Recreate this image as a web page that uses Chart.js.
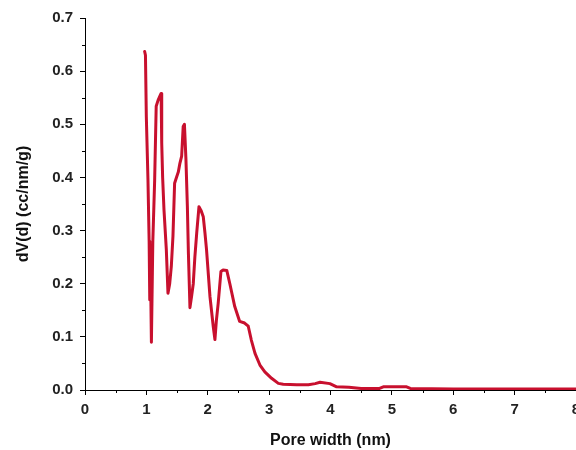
<!DOCTYPE html>
<html>
<head>
<meta charset="utf-8">
<script src="https://cdn.jsdelivr.net/npm/chart.js@4/dist/chart.umd.min.js"></script>
<style>
  html, body { margin: 0; padding: 0; background: #fff; }
  #wrap { width: 576px; height: 450px; }
</style>
</head>
<body>
<div id="wrap"><canvas id="psd"></canvas></div>
<script>
// pore size distribution
const poreWidth = [0.972, 0.985, 0.999, 1.026, 1.045, 1.055, 1.065, 1.082, 1.105, 1.135,
    1.16, 1.19, 1.216, 1.24, 1.25, 1.265, 1.287, 1.325, 1.352, 1.38,
    1.406, 1.433, 1.46, 1.49, 1.52, 1.547, 1.575, 1.60, 1.62, 1.645,
    1.668, 1.685, 1.71, 1.735, 1.764, 1.79, 1.82, 1.857, 1.89, 1.927,
    1.955, 1.98, 2.036, 2.09, 2.117, 2.14, 2.17, 2.215, 2.25, 2.31,
    2.36, 2.44, 2.52, 2.6, 2.66, 2.71, 2.77, 2.85, 2.93, 3.04,
    3.15, 3.23, 3.45, 3.64, 3.75, 3.83, 3.99, 4.1, 4.3, 4.5,
    4.8, 4.86, 5.24, 5.3, 6, 7, 8];
const dVd = [0.637, 0.63, 0.515, 0.395, 0.28, 0.17, 0.25, 0.09, 0.28, 0.395,
    0.534, 0.545, 0.552, 0.558, 0.465, 0.40, 0.339, 0.264, 0.182, 0.20,
    0.232, 0.289, 0.389, 0.40, 0.41, 0.427, 0.44, 0.496, 0.50, 0.433,
    0.345, 0.257, 0.155, 0.175, 0.20, 0.25, 0.295, 0.345, 0.338, 0.326,
    0.295, 0.264, 0.176, 0.119, 0.095, 0.13, 0.163, 0.223, 0.226, 0.225,
    0.20, 0.157, 0.129, 0.126, 0.12, 0.094, 0.069, 0.047, 0.034, 0.022,
    0.0125, 0.011, 0.010, 0.010, 0.012, 0.0145, 0.012, 0.006, 0.005, 0.003,
    0.003, 0.006, 0.006, 0.003, 0.002, 0.002, 0.002];

const xTicks = [0, 1, 2, 3, 4, 5, 6, 7, 8];
const yTicks = [0, 0.1, 0.2, 0.3, 0.4, 0.5, 0.6, 0.7];

const lineColor = '#c8102e';
const tickFont = { family: '"Liberation Sans", Arial, sans-serif', size: 15, weight: 'bold' };
const titleFont = { family: '"Liberation Sans", Arial, sans-serif', size: 16, weight: 'bold' };

// short minor ticks halfway between the labelled ones
const minorTicks = {
    id: 'minorTicks',
    afterDraw(chart) {
        const { ctx, scales: { x, y } } = chart;
        ctx.save();
        ctx.strokeStyle = '#000';
        ctx.lineWidth = 1;
        ctx.beginPath();
        for (let i = 0; i < xTicks.length - 1; i++) {
            const px = Math.round(x.getPixelForValue((xTicks[i] + xTicks[i + 1]) / 2)) + 0.5;
            ctx.moveTo(px, y.bottom);
            ctx.lineTo(px, y.bottom + 3);
        }
        for (let i = 0; i < yTicks.length - 1; i++) {
            const py = Math.round(y.getPixelForValue((yTicks[i] + yTicks[i + 1]) / 2)) + 0.5;
            ctx.moveTo(x.left, py);
            ctx.lineTo(x.left - 3, py);
        }
        ctx.stroke();
        ctx.restore();
    }
};

new Chart(document.getElementById('psd'), {
    type: 'line',
    data: {
        datasets: [{
            data: poreWidth.map((w, i) => ({ x: w, y: dVd[i] })),
            borderColor: lineColor,
            borderWidth: 3,
            borderJoinStyle: 'round',
            borderCapStyle: 'round',
            pointRadius: 0,
            tension: 0,
            fill: false
        }]
    },
    options: {
        responsive: true,
        maintainAspectRatio: false,
        animation: false,
        layout: { padding: { top: 18, right: 0, bottom: 0, left: 0 } },
        plugins: {
            legend: { display: false },
            tooltip: { enabled: false }
        },
        scales: {
            x: {
                type: 'linear',
                min: 0,
                max: 8,
                afterBuildTicks: (s) => { s.ticks = xTicks.map(v => ({ value: v })); },
                ticks: { color: '#222', font: tickFont, padding: 6, maxRotation: 0 },
                grid: { drawOnChartArea: false, tickLength: 5, tickColor: '#000' },
                border: { color: '#000', width: 1 },
                title: { display: true, text: 'Pore width (nm)', color: '#111', font: titleFont, padding: { top: 0, bottom: 0 } },
                afterFit: (s) => { s.height = 60; s.paddingLeft = 0; s.paddingRight = 0; }
            },
            y: {
                min: 0,
                max: 0.7,
                afterBuildTicks: (s) => { s.ticks = yTicks.map(v => ({ value: v })); },
                ticks: { color: '#222', font: tickFont, padding: 7, callback: (v) => v.toFixed(1) },
                grid: { drawOnChartArea: false, tickLength: 5, tickColor: '#000' },
                border: { color: '#000', width: 1 },
                title: { display: true, text: 'dV(d) (cc/nm/g)', color: '#111', font: titleFont, padding: { top: 14, bottom: 0 } },
                afterFit: (s) => { s.width = 85; }
            }
        }
    },
    plugins: [minorTicks]
});
</script>
</body>
</html>
